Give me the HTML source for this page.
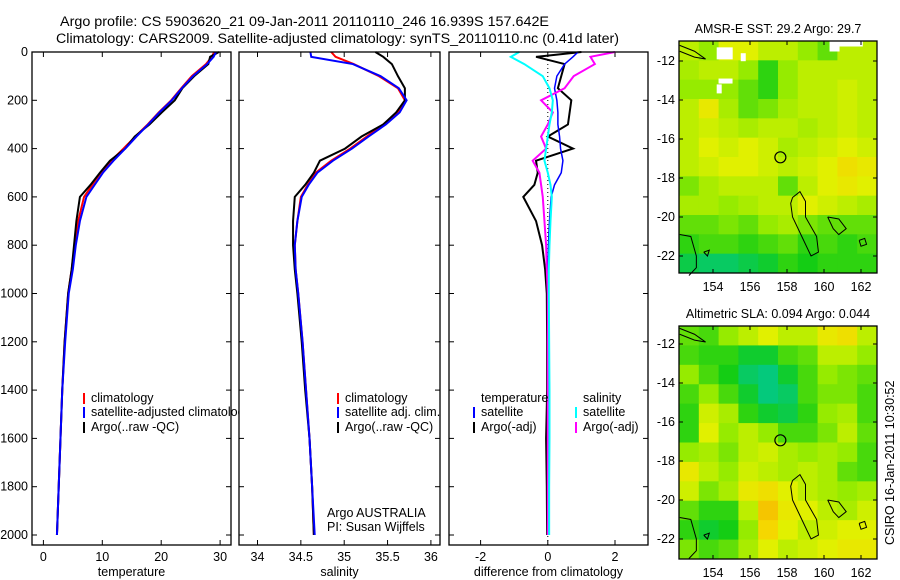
<!DOCTYPE html>
<html><head><meta charset="utf-8"><style>
body{margin:0;background:#fff}
svg{display:block;font-family:"Liberation Sans",sans-serif;font-size:12.5px}
.tt{font-size:13.5px}
</style></head><body>
<svg id="c" width="900" height="580" viewBox="0 0 900 580">
<text class="tt" x="60" y="26" textLength="489" lengthAdjust="spacingAndGlyphs">Argo profile: CS 5903620_21 09-Jan-2011 20110110_246 16.939S 157.642E</text>
<text class="tt" x="56" y="43" textLength="563" lengthAdjust="spacingAndGlyphs">Climatology: CARS2009. Satellite-adjusted climatology: synTS_20110110.nc (0.41d later)</text>
<g id="g"></g>
</svg>
<script>
const depths=[0,20,50,100,150,200,250,300,350,400,450,500,550,600,700,800,900,1000,1200,1400,1600,1800,2000];
const tClim=[29.0,28.6,27.6,25.2,23.4,21.7,19.6,17.7,15.6,13.6,11.5,9.7,8.3,6.9,5.9,5.3,4.8,4.2,3.6,3.2,2.9,2.6,2.3];
const tSat=[29.3,28.9,27.8,25.4,23.5,21.8,19.7,17.8,15.8,13.9,11.9,10.1,8.7,7.3,6.2,5.5,5.0,4.3,3.7,3.2,2.9,2.6,2.3];
const tArgo=[29.8,28.3,28.0,25.6,23.6,22.3,20.1,18.0,15.5,13.9,11.3,9.6,8.0,6.2,5.6,5.2,4.8,4.2,3.6,3.2,2.9,2.6,2.3];
const sClim=[34.85,34.9,35.11,35.40,35.62,35.70,35.62,35.45,35.26,35.07,34.85,34.67,34.58,34.50,34.46,34.43,34.44,34.47,34.52,34.56,34.6,34.63,34.65];
const sSat=[34.61,34.62,35.1,35.42,35.63,35.72,35.64,35.48,35.28,35.09,34.87,34.69,34.59,34.51,34.46,34.43,34.44,34.47,34.52,34.56,34.6,34.63,34.66];
const sArgo=[35.36,35.45,35.55,35.62,35.70,35.70,35.6,35.45,35.2,35.01,34.72,34.65,34.55,34.43,34.41,34.41,34.43,34.46,34.51,34.55,34.6,34.63,34.65];
const dTArgo=[1.0,-0.35,0.5,0.4,0.3,0.7,0.65,0.6,0.0,0.75,-0.35,-0.3,-0.4,-0.73,-0.35,-0.17,-0.08,-0.03,-0.02,-0.02,-0.05,-0.03,-0.02];
const dTSat=[0.9,0.75,0.5,0.27,0.2,0.27,0.3,0.3,0.35,0.38,0.45,0.4,0.2,0.1,0.05,0.02,0.01,0.0,0.0,0.0,0.0,0.0,0.0];
const dSArgo=[2.0,1.27,1.4,0.77,0.5,-0.2,0.15,0.0,-0.2,-0.05,-0.45,-0.25,-0.2,-0.15,-0.1,-0.05,-0.03,0.0,0.0,0.0,0.0,0.0,0.0];
const dSSat=[-0.85,-1.1,-0.7,-0.15,0.05,0.15,0.12,0.05,0.0,-0.05,-0.1,0.0,0.08,0.12,0.08,0.05,0.03,0.03,0.04,0.05,0.05,0.04,0.04];
const sstGrid=[
[.6,.5,.7,.7,.6,.6,.5,.4,.6,.6],[.55,.6,.6,.5,.3,.5,.6,.6,.6,.6],[.5,.5,.5,.4,.3,.5,.6,.6,.65,.6],
[.6,.75,.55,.4,.45,.55,.6,.6,.65,.6],[.6,.65,.6,.55,.6,.6,.55,.6,.65,.6],[.6,.7,.65,.7,.65,.55,.6,.65,.7,.65],
[.6,.65,.7,.7,.65,.6,.65,.7,.8,.75],[.45,.55,.6,.6,.6,.4,.6,.7,.75,.7],[.55,.55,.5,.55,.6,.6,.7,.65,.6,.55],
[.4,.4,.45,.4,.5,.55,.45,.4,.4,.4],[.3,.35,.35,.3,.35,.4,.3,.35,.3,.35],[.15,.1,.1,.15,.2,.3,.25,.3,.3,.3]];
const slaGrid=[
[.4,.35,.5,.6,.7,.6,.6,.75,.8,.6],[.35,.3,.3,.2,.2,.35,.4,.6,.6,.5],[.5,.35,.25,.1,.05,.2,.35,.5,.45,.4],
[.35,.5,.35,.2,.05,.1,.35,.45,.45,.35],[.3,.65,.55,.3,.2,.15,.3,.5,.55,.35],[.3,.7,.5,.6,.5,.35,.35,.45,.6,.4],
[.5,.55,.45,.6,.65,.55,.5,.55,.5,.35],[.75,.6,.5,.65,.6,.55,.6,.55,.4,.35],[.65,.45,.55,.75,.8,.7,.6,.55,.5,.55],
[.4,.3,.3,.6,.9,.75,.7,.6,.55,.65],[.3,.2,.25,.5,.85,.7,.6,.65,.7,.7],[.45,.35,.4,.55,.7,.6,.65,.7,.75,.75]];
const depthTicks=[0,200,400,600,800,1000,1200,1400,1600,1800,2000];
const tTicks=[0,10,20,30], sTicks=[34,34.5,35,35.5,36], dTicks=[-2,0,2];
const latTicks=[-12,-14,-16,-18,-20,-22], lonTicks=[154,156,158,160,162];
const argoLon=157.642, argoLat=-16.939;

const NS='http://www.w3.org/2000/svg', G=document.getElementById('g');
function el(t,a,txt){const e=document.createElementNS(NS,t);for(const k in a)e.setAttribute(k,a[k]);if(txt!==undefined)e.textContent=txt;G.appendChild(e);return e;}
const yD=d=>52+0.2415*d;
const xT=v=>43.4+5.89*v, xS=v=>257.5+86.7*(v-34), xDf=v=>547.8+33.6*v;
function line(vals,xf,col,name,w){
  const p=el('polyline',{points:vals.map((v,i)=>xf(v)+','+yD(depths[i])).join(' '),fill:'none',stroke:col,'stroke-width':w||2});
  
  }
function leg(x,y,col,txt){if(col)el('line',{x1:x-7,x2:x-7,y1:y-9,y2:y+2,stroke:col,'stroke-width':2});
  const t=el('text',{x:x,y:y},txt);
  
  }
function panel(x0,x1,xf,ticks,fmt,label,name){
  el('rect',{x:x0,y:52,width:x1-x0,height:493,fill:'#fff'});
  ticks.forEach(v=>{const x=xf(v);
    el('line',{x1:x,x2:x,y1:545,y2:540,stroke:'#000'});el('line',{x1:x,x2:x,y1:52,y2:57,stroke:'#000'});
    const t=el('text',{x:x,y:561,'text-anchor':'middle'},fmt(v));
    
    });
  depthTicks.forEach(d=>{const y=yD(d);el('line',{x1:x0,x2:x0+5,y1:y,y2:y,stroke:'#000'});el('line',{x1:x1,x2:x1-5,y1:y,y2:y,stroke:'#000'});});
  const l=el('text',{x:(x0+x1)/2,y:576,'text-anchor':'middle'},label);
  
  
}
function frame(x0,x1,name){
  const r=el('rect',{x:x0,y:52,width:x1-x0,height:493,fill:'none',stroke:'#000','stroke-width':1.3});
  
  }
panel(32,231,xT,tTicks,v=>v,'temperature','temperature-panel');
line(tClim,xT,'#f00','temp-climatology-line');line(tArgo,xT,'#000','temp-argo-line');line(tSat,xT,'#00f','temp-satellite-line');
leg(91,402,'#f00','climatology');leg(91,416,'#00f','satellite-adjusted climatology');leg(91,431,'#000','Argo(..raw -QC)');
panel(239,440,xS,sTicks,v=>v,'salinity','salinity-panel');
line(sClim,xS,'#f00','sal-climatology-line');line(sArgo,xS,'#000','sal-argo-line');line(sSat,xS,'#00f','sal-satellite-line');
leg(345,402,'#f00','climatology');leg(345,416,'#00f','satellite adj. clim.');leg(345,431,'#000','Argo(..raw -QC)');
leg(327,517,null,'Argo AUSTRALIA');leg(327,531,null,'PI: Susan Wijffels');
panel(449,648,xDf,dTicks,v=>v,'difference from climatology','difference-panel');
el('line',{x1:xDf(0),x2:xDf(0),y1:52,y2:545,stroke:'#000','stroke-dasharray':'1,3'});
line(dTArgo,xDf,'#000','diff-temp-argo-line');line(dTSat,xDf,'#00f','diff-temp-satellite-line',1.5);
line(dSArgo,xDf,'#f0f','diff-sal-argo-line');line(dSSat,xDf,'#0ff','diff-sal-satellite-line');
leg(481,402,null,'temperature');leg(481,416,'#00f','satellite');leg(481,431,'#000','Argo(-adj)');
leg(583,402,null,'salinity');leg(583,416,'#0ff','satellite');leg(583,431,'#f0f','Argo(-adj)');
frame(32,231,'temperature-panel');frame(239,440,'salinity-panel');frame(449,648,'difference-panel');
depthTicks.forEach(d=>{const t=el('text',{x:28,y:yD(d)+4,'text-anchor':'end'},d);
  
  });

// maps
const stops=[[0,[0,200,150]],[0.25,[20,205,20]],[0.5,[150,235,0]],[0.7,[225,240,0]],[0.85,[245,215,0]],[1,[245,160,0]]];
function cmap(v){for(let i=1;i<stops.length;i++){if(v<=stops[i][0]){const a=stops[i-1],b=stops[i],f=(v-a[0])/(b[0]-a[0]);
  return 'rgb('+a[1].map((c,k)=>Math.round(c+(b[1][k]-c)*f)).join(',')+')';}}return 'rgb(245,160,0)';}
const coasts=[[[158.3,-19.0],[158.7,-18.7],[159,-19.2],[159,-20],[159.6,-21],[159.7,-21.8],[159.3,-22],[158.8,-21],[158.3,-20],[158.2,-19.3],[158.3,-19.0]],
[[160.2,-20],[160.8,-20.1],[161.2,-20.6],[160.8,-20.9],[160.5,-20.6],[160.2,-20]],
[[152.2,-20.9],[152.8,-21.0],[153.1,-22],[153.1,-22.6],[152.7,-23]],
[[152.2,-11.2],[153,-11.5],[153.6,-11.9],[153,-11.8],[152.2,-11.5]],
[[161.9,-21.2],[162.2,-21.1],[162.3,-21.4],[162,-21.5],[161.9,-21.2]],
[[153.5,-21.8],[153.8,-21.7],[153.7,-22.0],[153.5,-21.8]]];
function map(top,bot,yLat12,grid,title,name,white){
  const L=679,R=877,xL=lon=>713+18.5*(lon-154),yL=lat=>yLat12+19.5*(-12-lat);
  const rows=grid.length,cols=grid[0].length,cw=(R-L)/cols,ch=(bot-top)/rows;
  grid.forEach((row,i)=>row.forEach((v,j)=>{const c=el('rect',{x:L+j*cw,y:top+i*ch,width:cw+0.5,height:ch+0.5,fill:cmap(v)});
    
    }));
  (white||[]).forEach(w=>el('rect',{x:xL(w[0]),y:yL(w[1]),width:w[2],height:w[3],fill:'#fff'}));
  coasts.forEach(cs=>el('polyline',{points:cs.map(p=>xL(p[0])+','+yL(p[1])).join(' '),fill:'none',stroke:'#000','stroke-width':1}));
  const m=el('circle',{cx:xL(argoLon),cy:yL(argoLat),r:5.5,fill:'none',stroke:'#000','stroke-width':1.2});
  
  
  const f=el('rect',{x:L,y:top,width:R-L,height:bot-top,fill:'none',stroke:'#000','stroke-width':1.3});
  
  
  latTicks.forEach(lat=>{const y=yL(lat);el('line',{x1:L,x2:L+4,y1:y,y2:y,stroke:'#000'});el('line',{x1:R,x2:R-4,y1:y,y2:y,stroke:'#000'});
    const t=el('text',{x:675,y:y+4,'text-anchor':'end'},lat);
    
    });
  lonTicks.forEach(lon=>{const x=xL(lon);el('line',{x1:x,x2:x,y1:bot,y2:bot-4,stroke:'#000'});el('line',{x1:x,x2:x,y1:top,y2:top+4,stroke:'#000'});
    const t=el('text',{x:x,y:bot+18,'text-anchor':'middle'},lon);
    
    });
  const tt=el('text',{x:(L+R)/2,y:top-8,'text-anchor':'middle'},title);
  
  
}
map(41,273,61,sstGrid,'AMSR-E SST: 29.2  Argo: 29.7','sst-map',[[154.2,-11.3,16,12],[155.5,-11.6,5,8],[154.3,-12.9,14,5],[154.2,-13.2,5,9],[160.3,-11.0,10,10],[160.8,-11.0,24,5]]);
map(326,559,344,slaGrid,'Altimetric SLA: 0.094  Argo: 0.044','sla-map');
const cs=el('text',{x:0,y:0,transform:'translate(894,545) rotate(-90)'},'CSIRO 16-Jan-2011 10:30:52');


</script>
</body></html>
